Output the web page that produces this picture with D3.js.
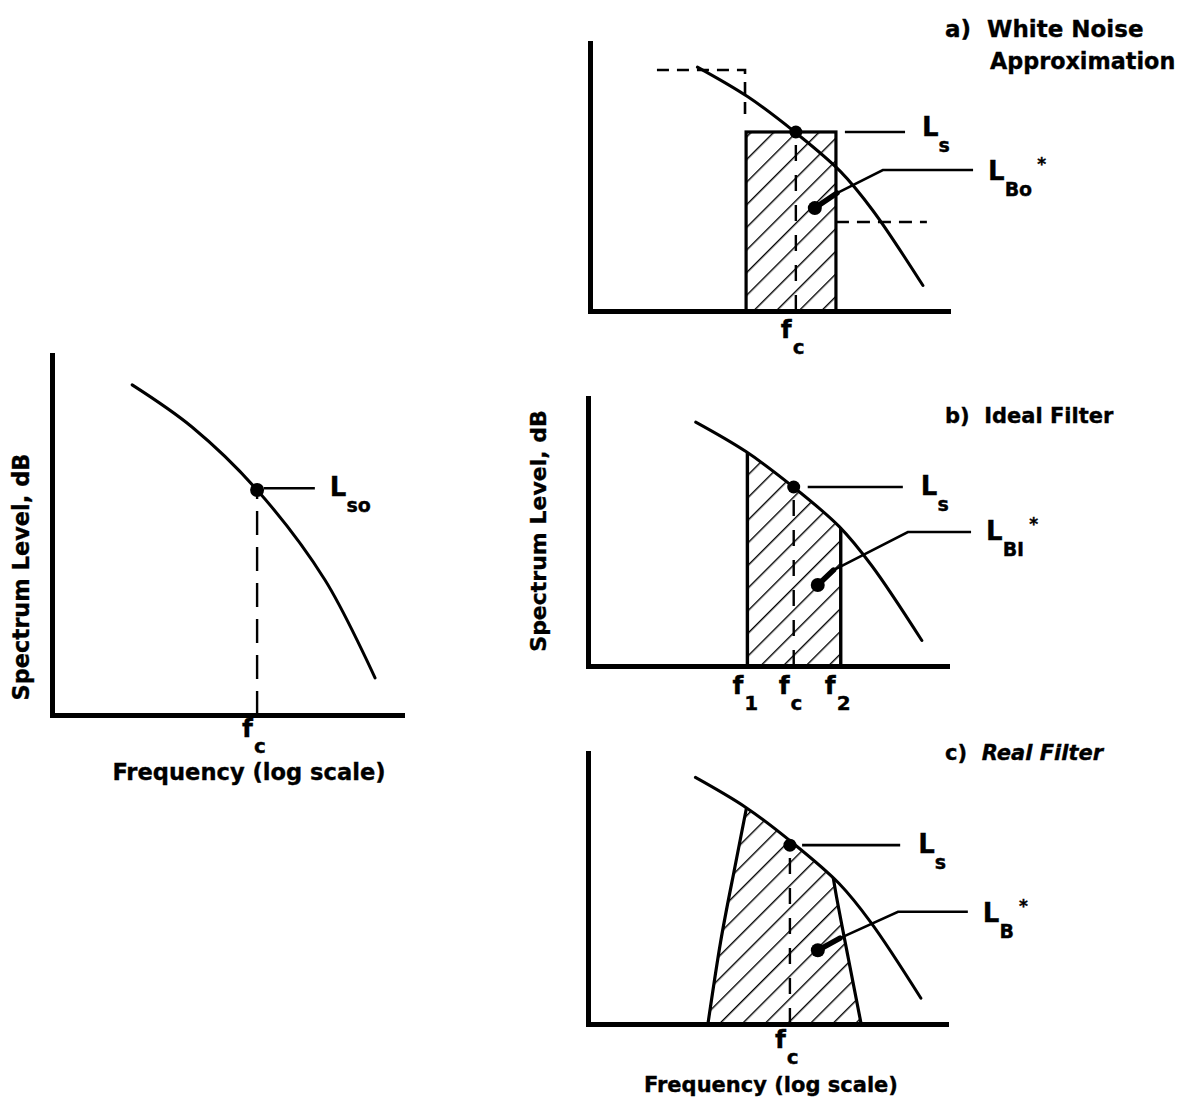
<!DOCTYPE html>
<html><head><meta charset="utf-8">
<script src="https://cdn.jsdelivr.net/npm/d3@7"></script>
<style>
body{margin:0;background:#fff}
svg text{font-family:"DejaVu Sans",sans-serif;font-weight:bold;fill:#000;stroke:#000;stroke-width:0.35px}
</style>
</head><body>
<svg id="chart" width="1182" height="1115"></svg>
<script>
// ---------------- DATA (abstract units: frequency 0-100 on log axis, level 0-100 dB-ish) -------------
// spectrum curve used in the three right-hand panels
const specFreq  = [30, 44, 57, 70, 79, 93];
const specLevel = [91, 80, 67, 52, 37.5, 9.5];
// spectrum curve of the left-hand panel
const soloFreq  = [22.9, 40, 58.6, 78, 92.3];
const soloLevel = [91.7, 80, 62.5, 37.5, 10.3];
// centre frequency and its spectrum level (left, a, b, c)
const centerFreq  = [58.6, 57.5, 57.3, 56.4];
const centerLevel = [62.5, 66.8, 66.8, 66.0];
// a) white-noise approximation band
const bandA = [43.6, 68.7];
const bandALevel = 66.8;
const approxUpperFreq  = [18.7, 43.3, 43.3];
const approxUpperLevel = [89.9, 89.9, 71.3];
const approxLowerFreq  = [68.7, 94.1];
const approxLowerLevel = [33.2, 33.2];
// b) ideal filter band edges f1, f2
const bandB = [44.4, 70.4];
// c) real filter skirts
const realLowFreq  = [33.5, 37.0, 40.6, 44.6];
const realLowLevel = [0, 30, 55, 82];
const realHighFreq  = [67.6, 69.2, 72.6, 76.3];
const realHighLevel = [62, 48.5, 25, 0];
// band level markers (L_Bo, L_BI, L_B)
const bandMarkFreq  = [62.8, 64.0, 64.2];
const bandMarkLevel = [38.4, 30.2, 27.2];
// leader lines: knee / bend / end frequencies and levels for band markers
const leadKneeFreq  = [69.0, 68.4, 70.4];
const leadKneeLevel = [44.0, 35.8, 31.7];
const leadBendFreq  = [81.8, 89.1, 86.6];
const leadBendLevel = [52.6, 50.0, 41.4];
const leadEndFreq   = [107, 106.7, 106.1];
// L_s leaders (start, end) for left, a, b, c
const lsLeadStart = [60.5, 71.2, 61.2, 59.8];
const lsLeadEnd   = [75.1, 88.0, 87.7, 87.2];
const lsLeadLevel = [63.0, 66.8, 66.8, 66.0];
// texts
const titleTexts = ["a)  White Noise", "Approximation", "b)  Ideal Filter", "c)  "];
const yTitle = "Spectrum Level, dB";
const xTitle = "Frequency (log scale)";

// ---------------- LAYOUT -------------
const frames = [
  {x0:52,  x1:402, yb:715,  yt:355},   // left
  {x0:590, x1:948, yb:311,  yt:43},    // a
  {x0:588, x1:947, yb:666,  yt:398},   // b
  {x0:588, x1:946, yb:1024, yt:753}    // c
];
const svg = d3.select("#chart");
svg.append("rect").attr("width",1182).attr("height",1115).attr("fill","#fff");
const defs = svg.append("defs");
const pat = defs.append("pattern").attr("id","hatch").attr("patternUnits","userSpaceOnUse")
  .attr("width",16).attr("height",16).attr("patternTransform","rotate(45)");
pat.append("line").attr("x1",0).attr("y1",0).attr("x2",0).attr("y2",16)
  .attr("stroke","#000").attr("stroke-width",2.8);

const scales = frames.map(f => ({
  x: d3.scaleLinear().domain([0,100]).range([f.x0, f.x1]),
  y: d3.scaleLinear().domain([0,100]).range([f.yb, f.yt])
}));

function axes(i){
  const {x,y} = scales[i];
  const f = frames[i];
  const gx = svg.append("g").attr("transform",`translate(0,${f.yb})`)
    .call(d3.axisBottom(x).tickValues([]).tickSizeOuter(0));
  const gy = svg.append("g").attr("transform",`translate(${f.x0},0)`)
    .call(d3.axisLeft(y).tickValues([]).tickSizeOuter(0));
  [gx,gy].forEach(g => g.select(".domain").attr("stroke","#000").attr("stroke-width",5)
    .attr("stroke-linecap","square"));
}

const smooth = d3.curveCatmullRom.alpha(0.5);
function curvePath(i, fr, lv){
  const {x,y} = scales[i];
  return d3.line().curve(smooth).x((d,k)=>x(fr[k])).y((d,k)=>y(lv[k]))(fr);
}
function areaPath(i, fr, lv){
  const {x,y} = scales[i];
  return d3.area().curve(smooth).x((d,k)=>x(fr[k])).y0(y(0)).y1((d,k)=>y(lv[k]))(fr);
}
function drawCurve(i, fr, lv){
  svg.append("path").attr("d",curvePath(i,fr,lv)).attr("fill","none")
    .attr("stroke","#000").attr("stroke-width",3).attr("stroke-linecap","round");
}
function dot(i, f, l, r){
  const {x,y} = scales[i];
  svg.append("circle").attr("cx",x(f)).attr("cy",y(l)).attr("r",r).attr("fill","#000");
}
function dashV(i, f, l, dash){
  const {x,y} = scales[i];
  svg.append("line").attr("x1",x(f)).attr("x2",x(f)).attr("y1",y(0)).attr("y2",y(l))
    .attr("stroke","#000").attr("stroke-width",2.4).attr("stroke-dasharray",dash);
}
function hline(i, f0, f1, l, w){
  const {x,y} = scales[i];
  svg.append("line").attr("x1",x(f0)).attr("x2",x(f1)).attr("y1",y(l)).attr("y2",y(l))
    .attr("stroke","#000").attr("stroke-width",w||2.6);
}
function levelLabel(px, py, sub, star){
  const t = svg.append("text").attr("x",px).attr("y",py).style("font-size","26px");
  t.append("tspan").text("L");
  t.append("tspan").attr("dy",16).style("font-size","19px").text(sub);
  if(star) t.append("tspan").attr("dx",5).attr("dy",-26).style("font-size","17px").text("*");
}
function freqLabel(px, py, sub){
  const t = svg.append("text").attr("x",px-15).attr("y",py).style("font-size","25px");
  t.append("tspan").text("f");
  t.append("tspan").attr("dx",1).attr("dy",16).style("font-size","20px").text(sub);
}
function bandLeader(i, k){
  const {x,y} = scales[i];
  svg.append("line").attr("x1",x(bandMarkFreq[k])).attr("y1",y(bandMarkLevel[k]))
    .attr("x2",x(leadKneeFreq[k])).attr("y2",y(leadKneeLevel[k]))
    .attr("stroke","#000").attr("stroke-width",5.5).attr("stroke-linecap","round");
  const pts = [[leadKneeFreq[k],leadKneeLevel[k]],[leadBendFreq[k],leadBendLevel[k]],[leadEndFreq[k],leadBendLevel[k]]];
  svg.append("path").attr("d",d3.line().x(d=>x(d[0])).y(d=>y(d[1]))(pts))
    .attr("fill","none").attr("stroke","#000").attr("stroke-width",2.6);
  dot(i, bandMarkFreq[k], bandMarkLevel[k], 7);
}

// ---------------- LEFT PANEL -------------
axes(0);
drawCurve(0, soloFreq, soloLevel);
dashV(0, centerFreq[0], centerLevel[0], "24,12");
dot(0, centerFreq[0], centerLevel[0], 7);
hline(0, lsLeadStart[0], lsLeadEnd[0], lsLeadLevel[0]);
levelLabel(scales[0].x(lsLeadEnd[0])+15, scales[0].y(lsLeadLevel[0])+8, "so", false);
freqLabel(scales[0].x(centerFreq[0]), frames[0].yb+22, "c");

// ---------------- PANEL a -------------
axes(1);
{
  const {x,y} = scales[1];
  svg.append("rect").attr("x",x(bandA[0])).attr("y",y(bandALevel))
    .attr("width",x(bandA[1])-x(bandA[0])).attr("height",y(0)-y(bandALevel))
    .attr("fill","url(#hatch)").attr("stroke","#000").attr("stroke-width",3.2);
  svg.append("path").attr("d",d3.line().x((d,k)=>x(approxUpperFreq[k])).y((d,k)=>y(approxUpperLevel[k]))(approxUpperFreq))
    .attr("fill","none").attr("stroke","#000").attr("stroke-width",2.6).attr("stroke-dasharray","12,8");
  svg.append("path").attr("d",d3.line().x((d,k)=>x(approxLowerFreq[k])).y((d,k)=>y(approxLowerLevel[k]))(approxLowerFreq))
    .attr("fill","none").attr("stroke","#000").attr("stroke-width",2.6).attr("stroke-dasharray","13,8");
}
dashV(1, centerFreq[1], centerLevel[1], "16,14");
drawCurve(1, specFreq, specLevel);
dot(1, centerFreq[1], centerLevel[1], 6.5);
hline(1, lsLeadStart[1], lsLeadEnd[1], lsLeadLevel[1]);
levelLabel(scales[1].x(lsLeadEnd[1])+17, scales[1].y(lsLeadLevel[1])+4, "s", false);
bandLeader(1, 0);
levelLabel(scales[1].x(leadEndFreq[0])+15, scales[1].y(leadBendLevel[0])+10, "Bo", true);
freqLabel(scales[1].x(centerFreq[1]), frames[1].yb+27, "c");

// ---------------- PANEL b -------------
axes(2);
{
  const {x,y} = scales[2];
  defs.append("clipPath").attr("id","underB").append("path").attr("d",areaPath(2,specFreq,specLevel));
  const g = svg.append("g").attr("clip-path","url(#underB)");
  g.append("rect").attr("x",x(bandB[0])).attr("y",y(100))
    .attr("width",x(bandB[1])-x(bandB[0])).attr("height",y(0)-y(100)).attr("fill","url(#hatch)");
  bandB.forEach(f => g.append("line").attr("x1",x(f)).attr("x2",x(f)).attr("y1",y(0)).attr("y2",y(100))
    .attr("stroke","#000").attr("stroke-width",3.4));
}
dashV(2, centerFreq[2], centerLevel[2], "16,14");
drawCurve(2, specFreq, specLevel);
dot(2, centerFreq[2], centerLevel[2], 6.5);
hline(2, lsLeadStart[2], lsLeadEnd[2], lsLeadLevel[2]);
levelLabel(scales[2].x(lsLeadEnd[2])+18, scales[2].y(lsLeadLevel[2])+8, "s", false);
bandLeader(2, 1);
levelLabel(scales[2].x(leadEndFreq[1])+15, scales[2].y(leadBendLevel[1])+8, "BI", true);
freqLabel(scales[2].x(bandB[0]), frames[2].yb+28, "1");
freqLabel(scales[2].x(centerFreq[2]), frames[2].yb+28, "c");
freqLabel(scales[2].x(bandB[1])-1, frames[2].yb+28, "2");

// ---------------- PANEL c -------------
axes(3);
{
  const {x,y} = scales[3];
  defs.append("clipPath").attr("id","underC").append("path").attr("d",areaPath(3,specFreq,specLevel));
  const edge = d3.line().curve(d3.curveNatural).x(d=>x(d[0])).y(d=>y(d[1]));
  const low = realLowFreq.map((f,k)=>[f,realLowLevel[k]]);
  const high = realHighFreq.map((f,k)=>[f,realHighLevel[k]]);
  const lowD = edge(low), highD = edge(high);
  const poly = lowD + `L${x(45.5)},${y(100)}L${x(66)},${y(100)}` + "L" + highD.slice(1) + "Z";
  const g = svg.append("g").attr("clip-path","url(#underC)");
  g.append("path").attr("d",poly).attr("fill","url(#hatch)");
  [lowD, highD].forEach(d => g.append("path").attr("d",d).attr("fill","none")
    .attr("stroke","#000").attr("stroke-width",3.2));
}
dashV(3, centerFreq[3], centerLevel[3], "16,14");
drawCurve(3, specFreq, specLevel);
dot(3, centerFreq[3], centerLevel[3], 6.5);
hline(3, lsLeadStart[3], lsLeadEnd[3], lsLeadLevel[3]);
levelLabel(scales[3].x(lsLeadEnd[3])+18, scales[3].y(lsLeadLevel[3])+8, "s", false);
bandLeader(3, 2);
levelLabel(scales[3].x(leadEndFreq[2])+15, scales[3].y(leadBendLevel[2])+10, "B", true);
freqLabel(scales[3].x(centerFreq[3]), frames[3].yb+24, "c");

// ---------------- TITLES -------------
svg.append("text").attr("x",945).attr("y",37).style("font-size","23px").attr("xml:space","preserve").text(titleTexts[0]);
svg.append("text").attr("x",990).attr("y",69).style("font-size","22.3px").text(titleTexts[1]);
svg.append("text").attr("x",945).attr("y",423).style("font-size","21px").attr("xml:space","preserve").text(titleTexts[2]);
{
  const t = svg.append("text").attr("x",945).attr("y",760).style("font-size","21px").attr("xml:space","preserve");
  t.append("tspan").text(titleTexts[3]);
  t.append("tspan").style("font-style","italic").text("Real Filter");
}
// axis titles
[[29,577,22.5],[546,531,22]].forEach(([tx,ty,fs]) => svg.append("text")
  .attr("transform",`translate(${tx},${ty}) rotate(-90)`).attr("text-anchor","middle")
  .style("font-size",fs+"px").text(yTitle));
[[249,780,22.6],[771,1092,21]].forEach(([tx,ty,fs]) => svg.append("text")
  .attr("x",tx).attr("y",ty).attr("text-anchor","middle").style("font-size",fs+"px").text(xTitle));
</script>
</body></html>
